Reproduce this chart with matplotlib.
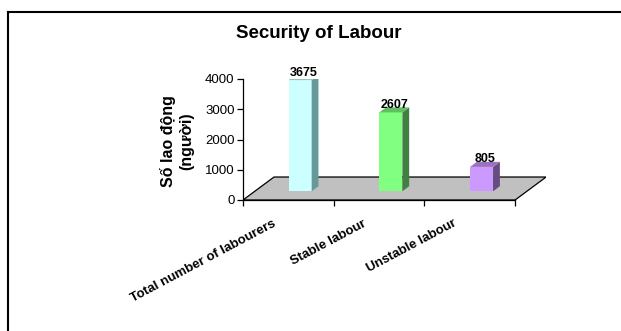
import numpy as np
import matplotlib
import matplotlib.pyplot as plt
from matplotlib.patches import Polygon
from matplotlib.lines import Line2D

matplotlib.use('agg')
plt.rcParams['font.family'] = ['Liberation Sans', 'DejaVu Sans']

# Constants
BIGFONT = 13.5
MIDFONT = 11.5
SMFONT = 9

# Data
categories = ['Total number of labourers', 'Stable labour', 'Unstable labour']
values = [3675, 2607, 805]
front_colors = ['#CCFFFF', '#80FF80', '#CC99FF']
side_colors = ['#669999', '#408040', '#664C80']
top_colors = ['#99BFBF', '#60BF60', '#9973BF']
yticks = [0, 1000, 2000, 3000, 4000]

# 3d look (oblique projection), in data units
DX = 0.342      # full floor depth along x (category units)
DY = 760        # full floor depth along y (value units)
Z0, Z1 = 0.38, 0.60   # bar depth (fraction of floor)
BW = 0.254      # bar width

fig = plt.figure(figsize=(6.21, 3.31), dpi=100)
ax = fig.add_axes([243/621, 1-200/331, 303/621, 121/331])
ax.set_xlim(-0.5, -0.5 + 303/90.7)
ax.set_ylim(0, 4000)
ax.patch.set_visible(False)

# floor
floor = Polygon([(-0.5, 0), (2.5, 0), (2.5+DX, DY), (-0.5+DX, DY)],
                closed=True, facecolor='#C0C0C0', edgecolor='black', lw=0.9, zorder=1)
ax.add_patch(floor)

for i, v in enumerate(values):
    x0 = i - BW/2 + Z0*DX
    x1 = i + BW/2 + Z0*DX
    y0 = Z0*DY
    ddx = (Z1-Z0)*DX
    ddy = (Z1-Z0)*DY
    front = Polygon([(x0, y0), (x1, y0), (x1, y0+v), (x0, y0+v)],
                    facecolor=front_colors[i], edgecolor='none', zorder=3)
    side = Polygon([(x1, y0), (x1+ddx, y0+ddy), (x1+ddx, y0+ddy+v), (x1, y0+v)],
                   facecolor=side_colors[i], edgecolor='none', zorder=3)
    top = Polygon([(x0, y0+v), (x1, y0+v), (x1+ddx, y0+ddy+v), (x0+ddx, y0+ddy+v)],
                  facecolor=top_colors[i], edgecolor='none', zorder=3)
    for p in (front, side, top):
        ax.add_patch(p)
    ax.text((x0+x1)/2 + ddx/2, y0 + v + ddy*0.3, str(v), ha='center', va='bottom',
            fontsize=SMFONT, fontweight='bold', zorder=5, clip_on=False)

# category labels
for i, c in enumerate(categories):
    ax.text(i - 0.15, -760, c, rotation=28, rotation_mode='anchor',
            ha='right', va='center', fontsize=SMFONT + 0.5, fontweight='bold', clip_on=False)

# axes
for s in ['top', 'right']:
    ax.spines[s].set_visible(False)
ax.spines['left'].set_bounds(0, 4000)
ax.spines['bottom'].set_bounds(-0.5, 2.5)
ax.spines['left'].set_linewidth(0.9)
ax.spines['bottom'].set_linewidth(0.9)
ax.spines['bottom'].set_zorder(2)
ax.set_yticks(yticks)
ax.set_yticklabels([str(t) for t in yticks], fontsize=SMFONT + 0.5)
ax.set_xticks([-0.5, 0.5, 1.5, 2.5])
ax.set_xticklabels([])
ax.tick_params(direction='out', length=4, width=0.9, pad=2)

# titles
fig.text(319/621, 1-33/331, 'Security of Labour', ha='center', va='center',
         fontsize=BIGFONT, fontweight='bold')
fig.text(177/621, 1-141/331, 'Số lao động\n(người)', ha='center', va='center',
         rotation=90, multialignment='center', fontsize=MIDFONT, fontweight='bold',
         linespacing=1.25)

# chart border (only left/top visible)
fig.add_artist(Line2D([8/621, 8/621], [1-12/331, -0.1], color='black', lw=1.5))
fig.add_artist(Line2D([8/621, 1.1], [1-12/331, 1-12/331], color='black', lw=1.5))

plt.savefig('out.png', dpi=100)
